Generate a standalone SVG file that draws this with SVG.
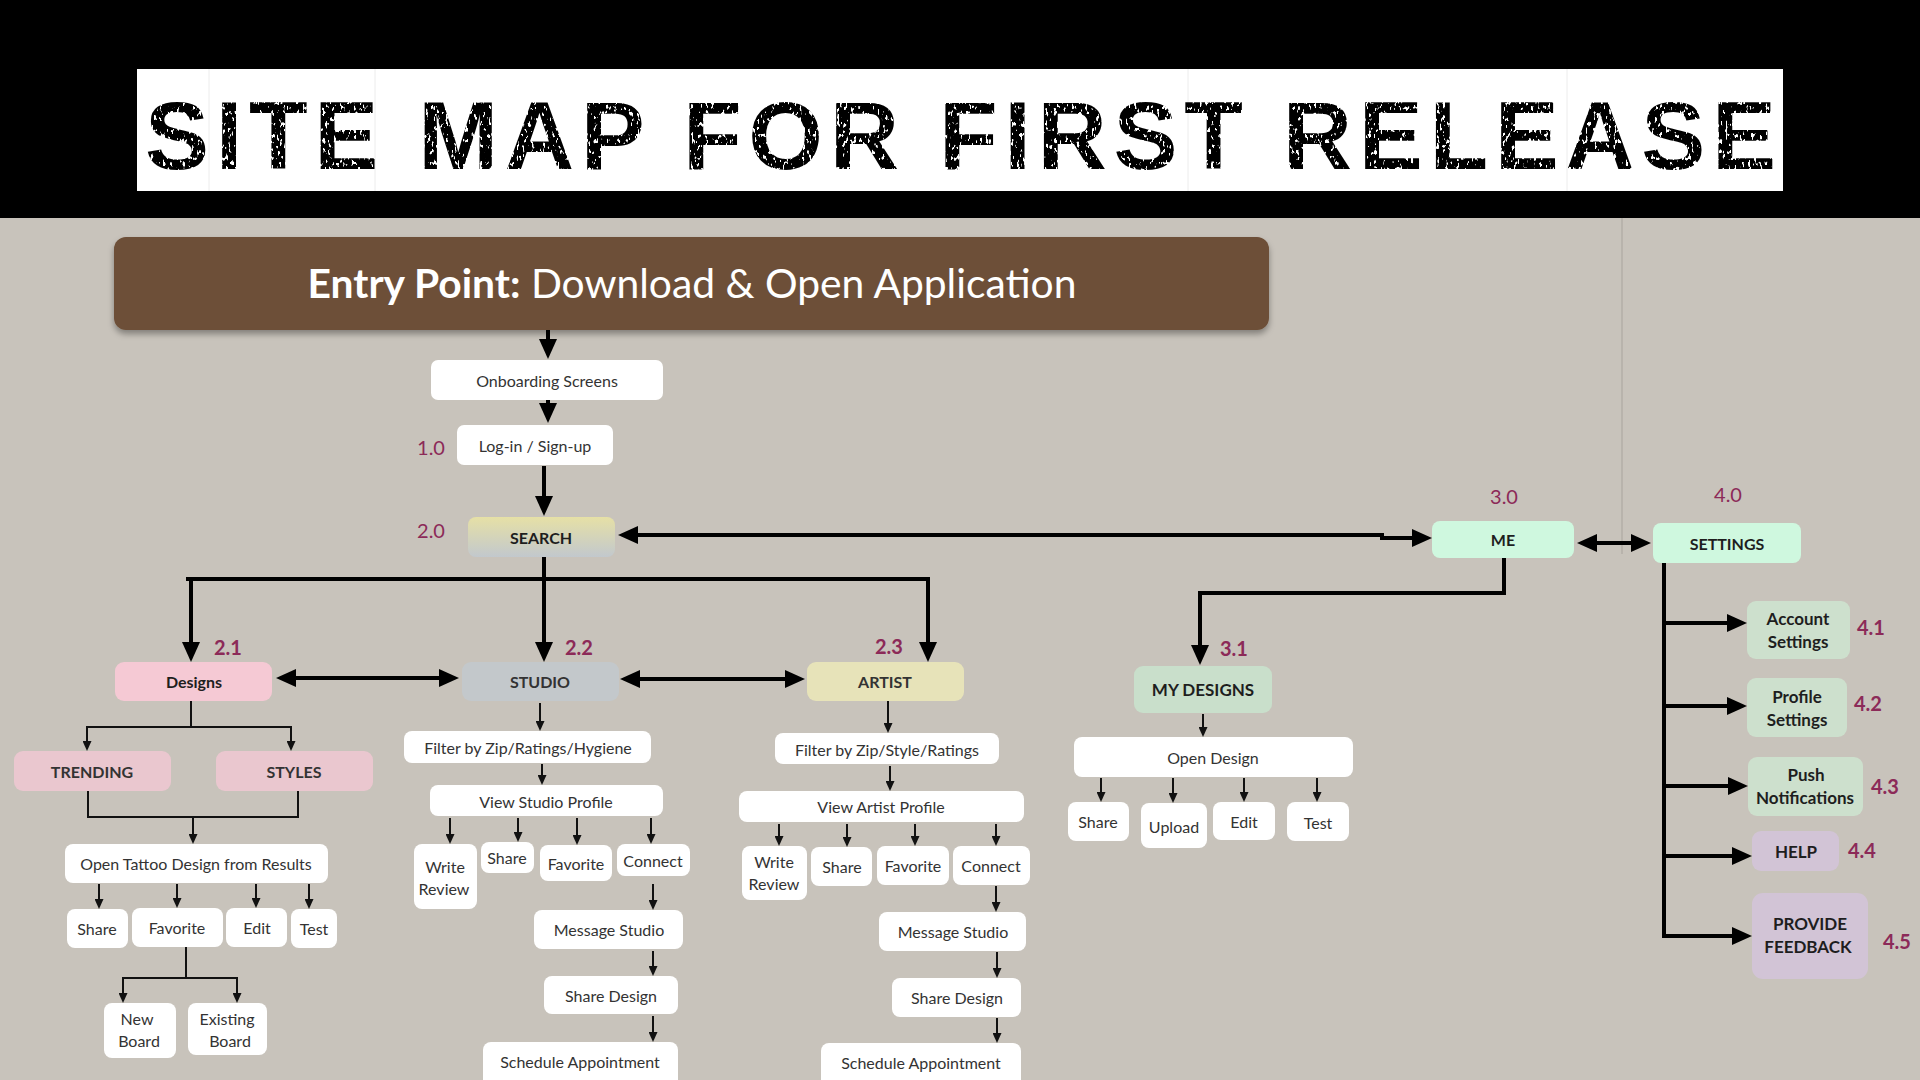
<svg xmlns="http://www.w3.org/2000/svg" width="1920" height="1080" viewBox="0 0 1920 1080">
<style>
.t{font-family:Lato,"Open Sans","Liberation Sans",sans-serif;font-size:16px;fill:#333;text-anchor:middle;dominant-baseline:central}
.b{font-weight:700;fill:#1e1e1e}
.s{font-size:17px}
.n{font-family:Lato,"Open Sans","Liberation Sans",sans-serif;font-size:20px;font-weight:700;fill:#8c2a58;text-anchor:middle;dominant-baseline:central}
.nr{font-weight:400}
.w{fill:#fff}
.thick{stroke:#000;stroke-width:4;fill:none}
.thin{stroke:#111;stroke-width:2;fill:none}
.ab{marker-end:url(#big)}
.abb{marker-start:url(#big);marker-end:url(#big)}
.as{marker-end:url(#small)}
</style>
<defs>
<marker id="big" markerUnits="userSpaceOnUse" markerWidth="20" markerHeight="18" refX="15" refY="9" orient="auto-start-reverse" viewBox="0 0 20 18">
<path d="M0,0 L20,9 L0,18 z" fill="#000"/>
</marker>
<marker id="small" markerUnits="userSpaceOnUse" markerWidth="10" markerHeight="9" refX="7" refY="4.5" orient="auto" viewBox="0 0 10 9">
<path d="M0,0 L10,4.5 L0,9 z" fill="#111"/>
</marker>
<linearGradient id="sg" x1="0" y1="0" x2="0" y2="1">
<stop offset="0" stop-color="#e6e0a6"/>
<stop offset="1" stop-color="#c2c8cd"/>
</linearGradient>
<filter id="sh" x="-5%" y="-20%" width="110%" height="150%">
<feDropShadow dx="0" dy="4" stdDeviation="3" flood-color="#000" flood-opacity="0.35"/>
</filter>
<filter id="rough" x="0" y="0" width="100%" height="100%">
<feTurbulence type="fractalNoise" baseFrequency="0.35 0.18" numOctaves="2" seed="7" result="noise"/>
<feColorMatrix in="noise" type="matrix" values="0 0 0 0 0  0 0 0 0 0  0 0 0 0 0  0 0 0 -14 9.6" result="holes"/>
<feComposite in="SourceGraphic" in2="holes" operator="in"/>
</filter>
</defs>

<rect width="1920" height="1080" fill="#c8c3bb"/>
<rect width="1920" height="218" fill="#000"/>
<line x1="1622" y1="218" x2="1622" y2="554" stroke="#a9a49d" stroke-width="1"/>

<g id="title">
<rect x="137" y="69" width="1646" height="122" fill="#fff"/>
<g stroke="#ececec" stroke-width="1">
<line x1="209" y1="69" x2="209" y2="191"/>
<line x1="375" y1="69" x2="375" y2="191"/>
<line x1="1188" y1="69" x2="1188" y2="191"/>
<line x1="1567" y1="69" x2="1567" y2="191"/>
</g>
<text x="145" y="169" textLength="1631" lengthAdjust="spacing" filter="url(#rough)" style="font-family:'Liberation Sans',Arial,sans-serif;font-weight:700;font-size:96px;fill:#000">SITE MAP FOR FIRST RELEASE</text>
</g>

<g id="entry">
<rect x="114" y="237" width="1155" height="93" rx="12" fill="#6d4f38" filter="url(#sh)"/>
<text x="692" y="283" class="t" textLength="769" lengthAdjust="spacingAndGlyphs" style="font-size:40px;fill:#fff"><tspan font-weight="700">Entry Point:</tspan> Download &amp; Open Application</text>
</g>

<g id="connectors">
<path class="thick ab" d="M548,330 V354"/>
<path class="thick ab" d="M548,400 V418"/>
<path class="thick ab" d="M544,466 V511"/>
<path class="thick abb" d="M623,535 H1382 V538 H1427"/>
<path class="thick ab" d="M544,557 V657"/>
<path class="thick" d="M186,579 H930"/>
<path class="thick ab" d="M191,579 V657"/>
<path class="thick ab" d="M928,579 V657"/>
<path class="thick abb" d="M281,678 H454"/>
<path class="thick abb" d="M625,679 H800"/>
<path class="thick ab" d="M1504,558 V593 H1200 V660"/>
<path class="thick abb" d="M1582,543 H1646"/>
<path class="thick" d="M1664,563 V936"/>
<path class="thick ab" d="M1662,623 H1742"/>
<path class="thick ab" d="M1662,706 H1742"/>
<path class="thick ab" d="M1662,786 H1743"/>
<path class="thick ab" d="M1662,856 H1747"/>
<path class="thick ab" d="M1662,936 H1747"/>

<path class="thin" d="M191,701 V727 M86,727 H292"/>
<path class="thin as" d="M87,727 V748"/>
<path class="thin as" d="M291,727 V748"/>
<path class="thin" d="M88,791 V817 H298 V791"/>
<path class="thin as" d="M193,817 V841"/>
<path class="thin as" d="M99,884 V906"/>
<path class="thin as" d="M177,884 V905"/>
<path class="thin as" d="M256,884 V905"/>
<path class="thin as" d="M309,884 V906"/>
<path class="thin" d="M186,947 V978 M122,978 H238"/>
<path class="thin as" d="M123,978 V1000"/>
<path class="thin as" d="M237,978 V1000"/>

<path class="thin as" d="M540,703 V728"/>
<path class="thin as" d="M542,764 V782"/>
<path class="thin as" d="M450,818 V841"/>
<path class="thin as" d="M518,818 V839"/>
<path class="thin as" d="M577,818 V842"/>
<path class="thin as" d="M651,818 V841"/>
<path class="thin as" d="M653,884 V907"/>
<path class="thin as" d="M653,951 V973"/>
<path class="thin as" d="M653,1016 V1039"/>

<path class="thin as" d="M888,701 V730"/>
<path class="thin as" d="M890,766 V788"/>
<path class="thin as" d="M779,824 V843"/>
<path class="thin as" d="M847,824 V844"/>
<path class="thin as" d="M915,824 V843"/>
<path class="thin as" d="M996,824 V843"/>
<path class="thin as" d="M996,886 V909"/>
<path class="thin as" d="M997,952 V975"/>
<path class="thin as" d="M997,1018 V1040"/>

<path class="thin as" d="M1203,714 V734"/>
<path class="thin as" d="M1101,778 V799"/>
<path class="thin as" d="M1173,778 V800"/>
<path class="thin as" d="M1244,778 V799"/>
<path class="thin as" d="M1317,778 V799"/>
</g>

<g id="onboarding"><rect class="w" x="431" y="360" width="232" height="40" rx="7"/><text class="t" x="547" y="380">Onboarding Screens</text></g>
<g id="login"><rect class="w" x="457" y="425" width="156" height="40" rx="7"/><text class="t" x="535" y="445">Log-in / Sign-up</text><text class="n nr" x="431" y="447">1.0</text></g>
<g id="search"><rect x="468" y="517" width="147" height="40" rx="8" fill="url(#sg)"/><text class="t b" x="541" y="537">SEARCH</text><text class="n nr" x="431" y="530">2.0</text></g>
<g id="me"><rect x="1432" y="521" width="142" height="37" rx="8" fill="#cff8df"/><text class="t b" x="1503" y="539">ME</text><text class="n nr" x="1504" y="496">3.0</text></g>
<g id="settings"><rect x="1653" y="523" width="148" height="40" rx="8" fill="#cff8df"/><text class="t b" x="1727" y="543">SETTINGS</text><text class="n nr" x="1728" y="494">4.0</text></g>

<g id="designs"><rect x="115" y="662" width="157" height="39" rx="9" fill="#f5c9d4"/><text class="t b" x="194" y="681">Designs</text><text class="n" x="228" y="647">2.1</text></g>
<g id="studio"><rect x="462" y="662" width="157" height="39" rx="9" fill="#c3c8cb"/><text class="t b" x="540" y="681" style="fill:#333">STUDIO</text><text class="n" x="579" y="647">2.2</text></g>
<g id="artist"><rect x="807" y="662" width="157" height="39" rx="9" fill="#e7e3b9"/><text class="t b" x="885" y="681" style="fill:#333">ARTIST</text><text class="n" x="889" y="646">2.3</text></g>

<g id="trending"><rect x="14" y="751" width="157" height="40" rx="9" fill="#eac7cf"/><text class="t b" x="92" y="771" style="fill:#333">TRENDING</text></g>
<g id="styles"><rect x="216" y="751" width="157" height="40" rx="9" fill="#eac7cf"/><text class="t b" x="294" y="771" style="fill:#333">STYLES</text></g>
<g id="open-tattoo"><rect class="w" x="65" y="844" width="263" height="39" rx="8"/><text class="t" x="196" y="863">Open Tattoo Design from Results</text></g>
<g id="d-share"><rect class="w" x="67" y="909" width="61" height="39" rx="8"/><text class="t" x="97" y="928">Share</text></g>
<g id="d-favorite"><rect class="w" x="132" y="908" width="91" height="39" rx="8"/><text class="t" x="177" y="927">Favorite</text></g>
<g id="d-edit"><rect class="w" x="226" y="908" width="61" height="39" rx="8"/><text class="t" x="257" y="927">Edit</text></g>
<g id="d-test"><rect class="w" x="291" y="909" width="46" height="39" rx="8"/><text class="t" x="314" y="928">Test</text></g>
<g id="new-board"><rect class="w" x="104" y="1003" width="72" height="55" rx="8"/><text class="t" x="137" y="1018">New</text><text class="t" x="139" y="1040">Board</text></g>
<g id="existing-board"><rect class="w" x="188" y="1003" width="79" height="52" rx="8"/><text class="t" x="227" y="1018">Existing</text><text class="t" x="230" y="1040">Board</text></g>

<g id="studio-filter"><rect class="w" x="404" y="731" width="247" height="32" rx="8"/><text class="t" x="528" y="747">Filter by Zip/Ratings/Hygiene</text></g>
<g id="studio-profile"><rect class="w" x="430" y="785" width="233" height="31" rx="8"/><text class="t" x="546" y="801">View Studio Profile</text></g>
<g id="s-review"><rect class="w" x="414" y="844" width="63" height="65" rx="8"/><text class="t" x="445" y="866">Write</text><text class="t" x="444" y="888">Review</text></g>
<g id="s-share"><rect class="w" x="481" y="842" width="53" height="31" rx="8"/><text class="t" x="507" y="857">Share</text></g>
<g id="s-favorite"><rect class="w" x="540" y="845" width="72" height="36" rx="8"/><text class="t" x="576" y="863">Favorite</text></g>
<g id="s-connect"><rect class="w" x="617" y="844" width="73" height="32" rx="8"/><text class="t" x="653" y="860">Connect</text></g>
<g id="s-message"><rect class="w" x="534" y="910" width="149" height="39" rx="8"/><text class="t" x="609" y="929">Message Studio</text></g>
<g id="s-share-design"><rect class="w" x="544" y="976" width="134" height="38" rx="8"/><text class="t" x="611" y="995">Share Design</text></g>
<g id="s-schedule"><rect class="w" x="483" y="1042" width="195" height="52" rx="8"/><text class="t" x="580" y="1061">Schedule Appointment</text></g>

<g id="artist-filter"><rect class="w" x="775" y="733" width="224" height="31" rx="8"/><text class="t" x="887" y="749">Filter by Zip/Style/Ratings</text></g>
<g id="artist-profile"><rect class="w" x="739" y="791" width="285" height="31" rx="8"/><text class="t" x="881" y="806">View Artist Profile</text></g>
<g id="a-review"><rect class="w" x="742" y="846" width="65" height="54" rx="8"/><text class="t" x="774" y="861">Write</text><text class="t" x="774" y="883">Review</text></g>
<g id="a-share"><rect class="w" x="811" y="847" width="61" height="39" rx="8"/><text class="t" x="842" y="866">Share</text></g>
<g id="a-favorite"><rect class="w" x="877" y="846" width="72" height="39" rx="8"/><text class="t" x="913" y="865">Favorite</text></g>
<g id="a-connect"><rect class="w" x="953" y="846" width="77" height="39" rx="8"/><text class="t" x="991" y="865">Connect</text></g>
<g id="a-message"><rect class="w" x="879" y="912" width="147" height="39" rx="8"/><text class="t" x="953" y="931">Message Studio</text></g>
<g id="a-share-design"><rect class="w" x="892" y="978" width="129" height="39" rx="8"/><text class="t" x="957" y="997">Share Design</text></g>
<g id="a-schedule"><rect class="w" x="821" y="1043" width="200" height="52" rx="8"/><text class="t" x="921" y="1062">Schedule Appointment</text></g>

<g id="my-designs"><rect x="1134" y="666" width="138" height="47" rx="9" fill="#c9dfcb"/><text class="t b s" x="1203" y="689">MY DESIGNS</text><text class="n" x="1234" y="648">3.1</text></g>
<g id="open-design"><rect class="w" x="1074" y="737" width="279" height="40" rx="8"/><text class="t" x="1213" y="757">Open Design</text></g>
<g id="m-share"><rect class="w" x="1068" y="802" width="61" height="39" rx="8"/><text class="t" x="1098" y="821">Share</text></g>
<g id="m-upload"><rect class="w" x="1141" y="803" width="66" height="45" rx="8"/><text class="t" x="1174" y="826">Upload</text></g>
<g id="m-edit"><rect class="w" x="1213" y="802" width="62" height="38" rx="8"/><text class="t" x="1244" y="821">Edit</text></g>
<g id="m-test"><rect class="w" x="1287" y="802" width="62" height="39" rx="8"/><text class="t" x="1318" y="822">Test</text></g>

<g id="account-settings"><rect x="1747" y="601" width="103" height="58" rx="9" fill="#cde0cd"/><text class="t b s" x="1798" y="618">Account</text><text class="t b s" x="1798" y="641">Settings</text><text class="n" x="1871" y="627">4.1</text></g>
<g id="profile-settings"><rect x="1747" y="678" width="100" height="59" rx="9" fill="#cde0cd"/><text class="t b s" x="1797" y="696">Profile</text><text class="t b s" x="1797" y="719">Settings</text><text class="n" x="1868" y="703">4.2</text></g>
<g id="push-notifications"><rect x="1748" y="757" width="115" height="59" rx="9" fill="#cde0cd"/><text class="t b s" x="1806" y="774">Push</text><text class="t b s" x="1805" y="797">Notifications</text><text class="n" x="1885" y="786">4.3</text></g>
<g id="help"><rect x="1752" y="831" width="87" height="40" rx="9" fill="#d2c4d6"/><text class="t b s" x="1796" y="851">HELP</text><text class="n" x="1862" y="850">4.4</text></g>
<g id="feedback"><rect x="1752" y="893" width="116" height="86" rx="11" fill="#d2c4d6"/><text class="t b s" x="1810" y="923">PROVIDE</text><text class="t b s" x="1808" y="946">FEEDBACK</text><text class="n" x="1897" y="941">4.5</text></g>
</svg>
